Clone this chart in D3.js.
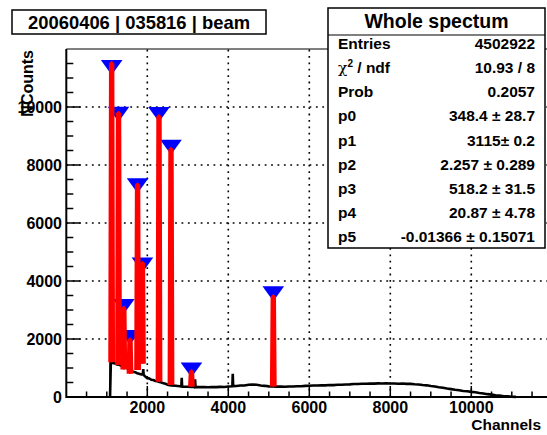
<!DOCTYPE html>
<html>
<head>
<meta charset="utf-8">
<script src="https://cdn.jsdelivr.net/npm/d3@7"></script>
<style>
  html, body { margin: 0; padding: 0; background: #fff; }
  svg { display: block; }
  text { font-family: "Liberation Sans", Arial, Helvetica, sans-serif; font-weight: bold; fill: #000; }
</style>
</head>
<body>
<svg id="chart" width="547" height="435"></svg>
<script>
// ---------------- data ----------------
const titleText = "20060406 | 035816 | beam";
const xTitle = "Channels";
const yTitle = "NCounts";

// histogram (channel, counts)
const histChannels = [1080, 1100, 1150, 1200, 1250, 1300, 1350, 1400, 1450, 1500, 1550, 1600, 1650, 1700, 1750, 1800, 1850, 1890, 1900, 1910, 1950, 2000, 2050, 2100, 2150, 2200, 2250, 2300, 2350, 2400, 2450, 2500, 2550, 2600, 2700, 2800, 2840, 2850, 2860, 2900, 3000, 3100, 3170, 3180, 3190, 3200, 3300, 3400, 3500, 3600, 3700, 3800, 3900, 4000, 4100, 4110, 4120, 4200, 4300, 4400, 4500, 4600, 4700, 4800, 4900, 5000, 5100, 5200, 5300, 5400, 5500, 5600, 5700, 5800, 5900, 6000, 6100, 6200, 6300, 6400, 6500, 6600, 6700, 6800, 6900, 7000, 7100, 7200, 7300, 7400, 7500, 7600, 7700, 7800, 7900, 8000, 8100, 8200, 8300, 8400, 8500, 8600, 8700, 8800, 8900, 9000, 9100, 9200, 9300, 9400, 9500, 9600, 9700, 9800, 9900, 10000, 10100, 10200, 10300, 10400, 10500, 10600, 10700, 10800, 10900, 11000, 11100];
const histCounts   = [0, 1200, 1170, 1160, 1120, 1115, 1080, 1070, 1020, 995, 940, 915, 870, 855, 820, 805, 780, 785, 960, 760, 705, 650, 640, 595, 585, 555, 540, 515, 500, 470, 455, 425, 410, 400, 390, 372, 365, 660, 362, 352, 355, 345, 348, 610, 342, 348, 340, 345, 336, 344, 340, 350, 345, 362, 368, 800, 374, 378, 395, 398, 425, 428, 422, 398, 385, 366, 362, 357, 360, 355, 364, 362, 372, 370, 384, 386, 398, 396, 404, 402, 412, 410, 422, 420, 432, 436, 448, 446, 458, 455, 464, 460, 470, 466, 474, 468, 468, 458, 464, 452, 452, 438, 432, 412, 402, 378, 362, 338, 322, 292, 272, 248, 232, 208, 198, 178, 162, 138, 122, 98, 82, 58, 46, 28, 22, 10, 4];

// found peaks (markers) and fitted peaks
const peakChannels = [1120, 1290, 1760, 1880, 1420, 1573, 2289, 2585, 3090, 5111];
const markerCounts = [11450, 9840, 7370, 4640, 3210, 2140, 9830, 8700, 1020, 3650];
const fitTops      = [11500, 9780, 7310, 4610, 3060, 1970, 9670, 8540, 870, 3460];
const fitBases     = [1200, 1100, 930, 1150, 950, 800, 530, 410, 360, 360];

// stats box
const statsTitle = "Whole spectum";
const statsLabels = ["Entries", "chi2", "Prob", "p0", "p1", "p2", "p3", "p4", "p5"];
const statsValues = ["4502922", "10.93 / 8", "0.2057", "348.4 \u00b1 28.7", "3115\u00b1 0.2", "2.257 \u00b1 0.289", "518.2 \u00b1 31.5", "20.87 \u00b1 4.78", "-0.01366 \u00b1 0.15071"];

const xMajorTicks = [2000, 4000, 6000, 8000, 10000];
const yMajorTicks = [0, 2000, 4000, 6000, 8000, 10000];

// ---------------- layout ----------------
const W = 547, H = 435;
const X0 = 66.3, X1 = 552.3, Y0 = 397, Y1 = 49;
const svg = d3.select("#chart");

const x = d3.scaleLinear().domain([0, 12000]).range([X0, X1]);
const y = d3.scaleLinear().domain([0, 12000]).range([Y0, Y1]);

// grid
const grid = svg.append("g").attr("stroke", "#000").attr("stroke-width", 1.6).attr("stroke-dasharray", "1.8 4.6");
xMajorTicks.forEach(v => grid.append("line").attr("x1", x(v)).attr("x2", x(v)).attr("y1", Y0).attr("y2", Y1));
yMajorTicks.filter(v => v > 0).forEach(v => grid.append("line").attr("x1", X0).attr("x2", W).attr("y1", y(v)).attr("y2", y(v)));

// frame top
svg.append("line").attr("x1", X0).attr("x2", W).attr("y1", Y1).attr("y2", Y1).attr("stroke", "#000").attr("stroke-width", 1);

// histogram
const pts = histChannels.map((c, i) => [c, histCounts[i]]);
svg.append("path")
  .datum(pts)
  .attr("fill", "none").attr("stroke", "#000").attr("stroke-width", 2.6)
  .attr("d", d3.line().x(d => x(d[0])).y(d => y(d[1])));
// vertical edge at histogram start
svg.append("line").attr("x1", x(histChannels[0])).attr("x2", x(histChannels[0]))
  .attr("y1", y(0)).attr("y2", y(histCounts[1])).attr("stroke", "#000").attr("stroke-width", 1.5);

// markers (inverted triangles)
const tri = d3.symbol().type(d3.symbolTriangle).size(130);
svg.append("g").selectAll("path").data(peakChannels).join("path")
  .attr("d", tri)
  .attr("transform", (c, i) => `translate(${x(c)},${y(markerCounts[i])}) rotate(180) scale(1.25,1)`)
  .attr("fill", "#0000ff");

// fitted peaks (red)
svg.append("g").selectAll("path").data(peakChannels).join("path")
  .attr("d", (c, i) => d3.line()([[x(c) - 1.0, y(fitBases[i])], [x(c) - 0.3, y(fitTops[i])], [x(c) + 0.3, y(fitTops[i])], [x(c) + 1.0, y(fitBases[i])]]))
  .attr("fill", "#ff0000").attr("stroke", "#ff0000").attr("stroke-width", 4.8).attr("stroke-linejoin", "bevel");

// axes
const axG = svg.append("g").attr("stroke", "#000");
axG.append("line").attr("x1", X0).attr("x2", W).attr("y1", Y0).attr("y2", Y0).attr("stroke-width", 2);
axG.append("line").attr("x1", X0).attr("x2", X0).attr("y1", Y0 + 1).attr("y2", Y1).attr("stroke-width", 2);
const xMinor = d3.range(500, 12000, 500);
xMinor.forEach(v => {
  const major = v % 2000 === 0;
  axG.append("line").attr("x1", x(v)).attr("x2", x(v)).attr("y1", Y0).attr("y2", Y0 - (major ? 11 : 5.5)).attr("stroke-width", 1.5);
});
const yMinor = d3.range(500, 12000, 500);
yMinor.forEach(v => {
  const major = v % 2000 === 0;
  axG.append("line").attr("x1", X0).attr("x2", X0 + (major ? 14 : 7)).attr("y1", y(v)).attr("y2", y(v)).attr("stroke-width", 1.5);
});

// tick labels
svg.append("g").selectAll("text").data(xMajorTicks).join("text")
  .attr("x", d => x(d)).attr("y", 413).attr("text-anchor", "middle").attr("font-size", 16).text(d => d);
svg.append("g").selectAll("text").data(yMajorTicks).join("text")
  .attr("x", 62).attr("y", d => y(d) + 5.6).attr("text-anchor", "end").attr("font-size", 16).text(d => d);

// axis titles
svg.append("text").attr("x", 541).attr("y", 430).attr("text-anchor", "end").attr("font-size", 15.5).text(xTitle);
svg.append("text").attr("transform", `translate(33,50) rotate(-90)`).attr("text-anchor", "end").attr("font-size", 16).text(yTitle);

// title box
svg.append("rect").attr("x", 12).attr("y", 10).attr("width", 254).attr("height", 24).attr("fill", "#fff").attr("stroke", "#000").attr("stroke-width", 1.5);
svg.append("text").attr("x", 139).attr("y", 29).attr("text-anchor", "middle").attr("font-size", 18.4).text(titleText);

// stats box
const sb = { x: 328, y: 8, w: 217, h: 240 };
svg.append("rect").attr("x", sb.x).attr("y", sb.y).attr("width", sb.w).attr("height", sb.h).attr("fill", "#fff").attr("stroke", "#000").attr("stroke-width", 1.5);
svg.append("line").attr("x1", sb.x).attr("x2", sb.x + sb.w).attr("y1", 35).attr("y2", 35).attr("stroke", "#000").attr("stroke-width", 1.2);
svg.append("text").attr("x", sb.x + sb.w / 2).attr("y", 27.5).attr("text-anchor", "middle").attr("font-size", 19.5).text(statsTitle);
statsLabels.forEach((lab, i) => {
  const yy = 43.8 + i * 24.05 + 5.5;
  const t = svg.append("text").attr("x", 338).attr("y", yy).attr("font-size", 15.5);
  if (lab === "chi2") {
    t.append("tspan").attr("font-weight", "normal").attr("font-family", "DejaVu Serif, serif").text("\u03c7");
    t.append("tspan").attr("font-size", 10).attr("dy", -6).text("2");
    t.append("tspan").attr("dy", 6).text(" / ndf");
  } else {
    t.text(lab);
  }
  svg.append("text").attr("x", 535).attr("y", yy).attr("text-anchor", "end").attr("font-size", 15.5).text(statsValues[i]);
});
</script>
</body>
</html>
